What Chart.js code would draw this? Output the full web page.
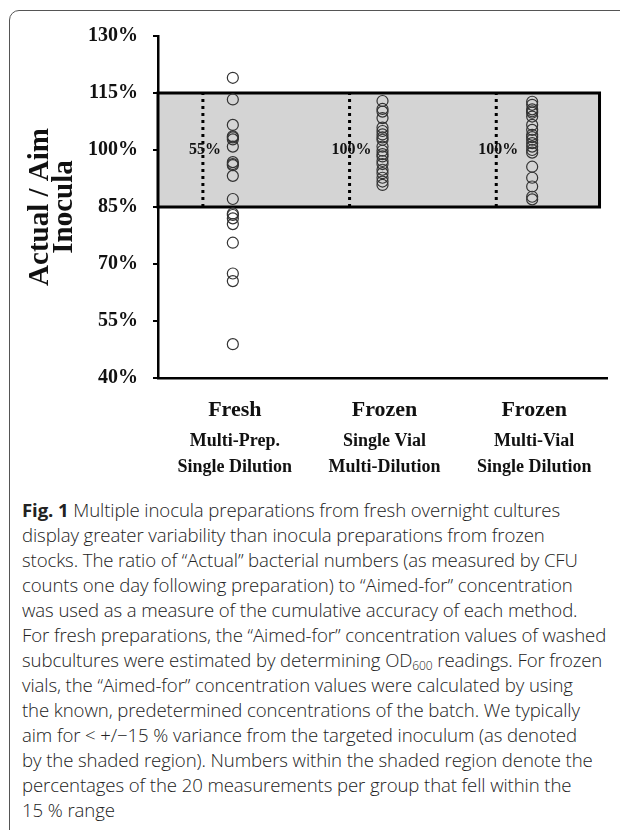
<!DOCTYPE html>
<html>
<head>
<meta charset="utf-8">
<script src="https://cdn.jsdelivr.net/npm/chart.js@4.4.0/dist/chart.umd.min.js"></script>
<style>
  html, body { margin: 0; padding: 0; background: #fff; width: 620px; height: 830px; overflow: hidden; }
  #frame { position: absolute; left: 9px; top: 10px; width: 700px; height: 900px; border: 1.5px solid #555; border-radius: 10px; }
  #wrap { position: absolute; left: 0; top: 0; width: 620px; height: 480px; }
  #caption { position: absolute; left: 22px; top: 497px; font-family: "Open Sans", sans-serif; font-weight: 300; font-size: 18.6px; line-height: 25px; color: #222; white-space: nowrap; letter-spacing: -0.1px; }
  #caption b { font-weight: 700; }
  #caption sub { font-size: 12px; vertical-align: -3px; line-height: 0; }
</style>
</head>
<body>
<div id="frame"></div>
<div id="wrap"><canvas id="chart"></canvas></div>
<div id="caption">
  <div><b>Fig. 1</b> Multiple inocula preparations from fresh overnight cultures</div>
  <div>display greater variability than inocula preparations from frozen</div>
  <div>stocks. The ratio of “Actual” bacterial numbers (as measured by CFU</div>
  <div>counts one day following preparation) to “Aimed-for” concentration</div>
  <div>was used as a measure of the cumulative accuracy of each method.</div>
  <div>For fresh preparations, the “Aimed-for” concentration values of washed</div>
  <div>subcultures were estimated by determining OD<sub>600</sub> readings. For frozen</div>
  <div>vials, the “Aimed-for” concentration values were calculated by using</div>
  <div>the known, predetermined concentrations of the batch. We typically</div>
  <div>aim for &lt; +/−15 % variance from the targeted inoculum (as denoted</div>
  <div>by the shaded region). Numbers within the shaded region denote the</div>
  <div>percentages of the 20 measurements per group that fell within the</div>
  <div>15 % range</div>
</div>
<script>
// groups along the x axis
var groupNames = ["Fresh", "Frozen", "Frozen"];
var groupSubLabels = [["Multi-Prep.", "Single Dilution"], ["Single Vial", "Multi-Dilution"], ["Multi-Vial", "Single Dilution"]];
var groupX = [0.5, 1.5, 2.5];

// actual / aim inocula, % (20 measurements per group)
var freshValues = [119.0, 113.3, 106.6, 103.6, 103.3, 102.8, 100.9, 96.8, 96.3, 96.0, 93.2, 87.1, 83.3, 82.9, 82.0, 80.5, 75.6, 67.5, 65.5, 48.9];
var singleVialValues = [112.9, 110.8, 110.1, 108.4, 105.9, 105.0, 104.1, 103.3, 102.7, 100.9, 99.8, 98.9, 98.3, 97.1, 96.3, 94.8, 93.9, 92.7, 91.7, 90.8];
var multiVialValues = [112.7, 111.9, 110.7, 110.2, 109.8, 108.8, 106.6, 105.3, 104.0, 103.4, 102.7, 101.8, 100.9, 100.0, 99.3, 95.6, 92.7, 90.4, 87.7, 87.0];

// share within the +/-15% band
var withinLabels = ["55%", "100%", "100%"];
var dotLineX = [0.3, 1.28, 2.26];

var yMin = 40, yMax = 130, yStep = 15;
var bandLow = 85, bandHigh = 115, bandRight = 2.95;

var serif = "'Liberation Serif', 'Times New Roman', serif";

function pts(x, vals) {
  return vals.map(function (v) { return { x: x, y: v }; });
}

var pointStyle = {
  type: 'scatter',
  pointRadius: 5.5,
  pointBorderWidth: 1.2,
  borderColor: '#333',
  backgroundColor: 'rgba(0,0,0,0)',
  showLine: false
};

var datasets = [];
dotLineX.forEach(function (x) {
  datasets.push({
    type: 'line',
    data: [{ x: x, y: bandLow }, { x: x, y: bandHigh }],
    borderColor: '#000',
    borderWidth: 3,
    borderDash: [3, 4],
    pointRadius: 0,
    fill: false
  });
});
[freshValues, singleVialValues, multiVialValues].forEach(function (vals, i) {
  datasets.push(Object.assign({ data: pts(groupX[i], vals) }, pointStyle));
});

var bandPlugin = {
  id: 'band',
  beforeDatasetsDraw: function (chart) {
    var ctx = chart.ctx, x = chart.scales.x, y = chart.scales.y;
    var left = x.left, right = x.getPixelForValue(bandRight);
    var top = y.getPixelForValue(bandHigh), bottom = y.getPixelForValue(bandLow);
    ctx.save();
    ctx.fillStyle = '#d4d4d4';
    ctx.fillRect(left, top, right - left, bottom - top);
    ctx.lineWidth = 3;
    ctx.strokeStyle = '#000';
    ctx.strokeRect(left, top, right - left, bottom - top);
    ctx.restore();
  },
  afterDatasetsDraw: function (chart) {
    var ctx = chart.ctx, x = chart.scales.x, y = chart.scales.y;
    ctx.save();
    ctx.fillStyle = '#111';
    ctx.font = 'bold 16px ' + serif;
    ctx.textAlign = 'center';
    ctx.textBaseline = 'middle';
    withinLabels.forEach(function (t, i) {
      ctx.fillText(t, x.getPixelForValue(dotLineX[i]) + 2, y.getPixelForValue(100));
    });
    // category labels under the x axis
    groupNames.forEach(function (name, i) {
      var cx = x.getPixelForValue(groupX[i]) + 2;
      ctx.font = 'bold 22px ' + serif;
      ctx.textBaseline = 'alphabetic';
      ctx.fillText(name, cx, x.top + 38);
      ctx.font = 'bold 18px ' + serif;
      ctx.fillText(groupSubLabels[i][0], cx, x.top + 68);
      ctx.fillText(groupSubLabels[i][1], cx, x.top + 94);
    });
    ctx.restore();
  }
};

new Chart(document.getElementById('chart'), {
  data: { datasets: datasets },
  plugins: [bandPlugin],
  options: {
    responsive: true,
    maintainAspectRatio: false,
    animation: false,
    events: [],
    layout: { padding: { left: 0, right: 13, top: 36, bottom: 0 } },
    plugins: { legend: { display: false }, tooltip: { enabled: false } },
    scales: {
      x: {
        type: 'linear',
        min: 0,
        max: 3,
        grid: { display: false },
        border: { display: true, color: '#000', width: 2.5 },
        ticks: { display: false },
        afterFit: function (s) { s.height = 102; }
      },
      y: {
        type: 'linear',
        min: yMin,
        max: yMax,
        grid: { display: true, drawOnChartArea: false, drawTicks: true, tickLength: 5, color: '#000', lineWidth: 2 },
        border: { display: true, color: '#000', width: 2.5 },
        ticks: {
          stepSize: yStep,
          padding: 15,
          color: '#111',
          font: { family: serif, size: 20, weight: 'bold' },
          callback: function (v) { return v + '%'; }
        },
        title: {
          display: true,
          text: ['Actual / Aim', 'Inocula'],
          color: '#111',
          font: { family: serif, size: 29, weight: 'bold', lineHeight: 0.85 },
          padding: { top: 28, bottom: 0 }
        },
        afterFit: function (s) { s.width = 158; }
      }
    }
  }
});
</script>
</body>
</html>
